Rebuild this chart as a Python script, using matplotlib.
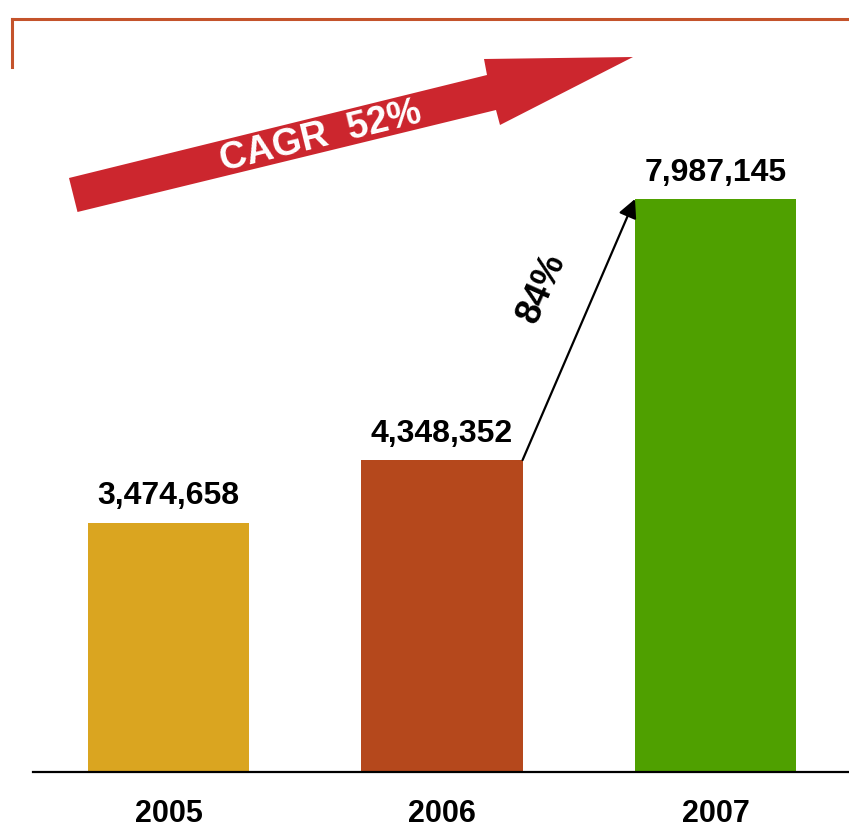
import matplotlib
matplotlib.use("Agg")
import matplotlib.pyplot as plt
from matplotlib.lines import Line2D
from matplotlib.patches import Polygon
from matplotlib.transforms import Affine2D

# yearly totals
years = ['2005', '2006', '2007']
values = [3474658, 4348352, 7987145]
bar_colors = ['#DAA520', '#B5481C', '#4FA000']
growth_label = '84%'
cagr_label = 'CAGR  52%'

W, H = 849, 828
fig = plt.figure(figsize=(W / 100, H / 100), dpi=100)

# pixel coordinates, origin top-left
px = Affine2D().scale(1.0 / W, -1.0 / H).translate(0, 1) + fig.transFigure

# thin frame in the top-left corner
frame_col = '#C4532B'
fig.add_artist(Line2D([12, 849], [19.5, 19.5], transform=px, color=frame_col, lw=2.2))
fig.add_artist(Line2D([12, 12], [19.5, 68], transform=px, color=frame_col, lw=2.2))

ax = fig.add_axes([33 / W, 55 / H, 816 / W, 773 / H])
x = list(range(len(years)))
bw = 0.589
ax.bar(x, values, width=bw, color=bar_colors, zorder=2)
ax.set_xlim(-0.4954, 2.488)
ax.set_ylim(0, max(values) * 773 / 573)

for s in ['top', 'right', 'left']:
    ax.spines[s].set_visible(False)
ax.spines['bottom'].set_linewidth(1.6)
ax.spines['bottom'].set_color('black')
ax.set_yticks([])
ax.set_xticks(x)
ax.set_xticklabels(years, fontsize=22, fontweight='bold', family='Liberation Sans')
ax.tick_params(axis='x', length=0, pad=19)

for xi, v in zip(x, values):
    ax.annotate(f'{v:,}', (xi, v), xytext=(0, 9), textcoords='offset points',
                ha='center', va='bottom', fontsize=23, fontweight='bold',
                family='Liberation Sans')

# growth arrow between the last two bars
ax.annotate('', xy=(2 - bw / 2, values[2]), xytext=(1 + bw / 2, values[1]),
            arrowprops=dict(arrowstyle='-|>', color='black', lw=1.6,
                            mutation_scale=28, shrinkA=0, shrinkB=0))
fig.text(542 / W, 1 - 288 / H, growth_label, rotation=66, rotation_mode='anchor',
         ha='center', va='center', fontsize=26, fontweight='bold',
         family='Liberation Sans')

# big CAGR arrow
arrow_pts = [(69, 179), (487, 76), (484, 60), (633, 58),
             (500, 126), (496, 111), (77.5, 213)]
fig.add_artist(Polygon(arrow_pts, closed=True, transform=px,
                       facecolor='#CC262E', edgecolor='none'))
fig.text(321 / W, 1 - 137 / H, cagr_label, rotation=13.8, rotation_mode='anchor',
         ha='center', va='center', fontsize=27, fontweight='bold',
         color='white', family='Liberation Sans')

fig.savefig('out.png', dpi=100)
